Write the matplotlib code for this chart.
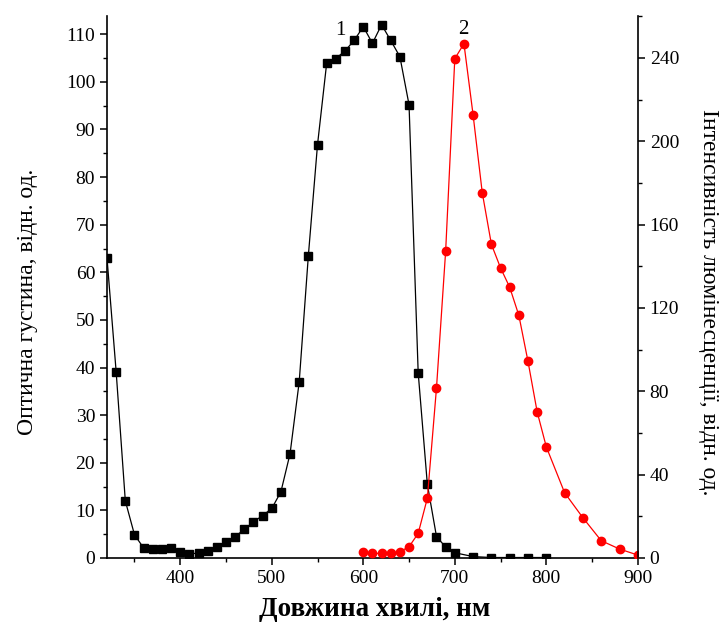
import matplotlib
matplotlib.use('Agg')
import matplotlib.pyplot as plt
from matplotlib.ticker import MultipleLocator

plt.rcParams['font.family'] = ['Liberation Serif', 'DejaVu Serif']

# curve 1: optical density (left axis)
wl_abs = [320, 330, 340, 350, 360, 370, 380, 390, 400, 410, 420, 430, 440, 450,
          460, 470, 480, 490, 500, 510, 520, 530, 540, 550, 560, 570, 580, 590,
          600, 610, 620, 630, 640, 650, 660, 670, 680, 690, 700, 720, 740, 760,
          780, 800]
od = [63.0, 39.1, 12.0, 4.9, 2.1, 1.8, 1.9, 2.1, 1.3, 0.9, 1.0, 1.4, 2.4, 3.4,
      4.5, 6.0, 7.6, 8.9, 10.4, 13.9, 21.9, 37.0, 63.5, 86.8, 103.9, 104.9,
      106.5, 108.7, 111.6, 108.1, 112.0, 108.7, 105.3, 95.2, 38.9, 15.5, 4.5,
      2.3, 1.1, 0.3, 0.1, 0.1, 0.1, 0.1]

# curve 2: luminescence intensity (right axis)
wl_lum = [600, 610, 620, 630, 640, 650, 660, 670, 680, 690, 700, 710, 720, 730,
          740, 750, 760, 770, 780, 790, 800, 820, 840, 860, 880, 900]
lum = [2.7, 2.2, 2.2, 2.3, 3.0, 5.4, 11.8, 28.7, 81.6, 147.2, 239.6, 246.8,
       212.6, 175.3, 150.5, 139.2, 129.9, 116.4, 94.3, 70.1, 53.3, 31.3, 19.3,
       8.3, 4.3, 1.4]

fig = plt.figure(figsize=(7.24, 6.22), dpi=100)
ax1 = fig.add_axes([0.1478, 0.1029, 0.7332, 0.8711])
ax2 = ax1.twinx()

ax1.plot(wl_abs, od, color='black', lw=0.9, marker='s', ms=5.8)
ax2.plot(wl_lum, lum, color='red', lw=0.9, marker='o', ms=6)

ax1.set_xlim(320, 900)
ax1.set_ylim(0, 113.8)
ax2.set_ylim(0, 260)

ax1.xaxis.set_major_locator(MultipleLocator(100))
ax1.xaxis.set_minor_locator(MultipleLocator(50))
ax1.yaxis.set_major_locator(MultipleLocator(10))
ax1.yaxis.set_minor_locator(MultipleLocator(5))
ax2.yaxis.set_major_locator(MultipleLocator(40))
ax2.yaxis.set_minor_locator(MultipleLocator(20))

for ax in (ax1, ax2):
    ax.spines['top'].set_visible(False)
    for s in ax.spines.values():
        s.set_linewidth(1.2)
    ax.tick_params(which='major', direction='out', length=5, width=1.1,
                   labelsize=14)
    ax.tick_params(which='minor', direction='out', length=3, width=1.0)
ax1.spines['right'].set_visible(False)
ax2.spines['left'].set_visible(False)
ax2.spines['bottom'].set_visible(False)

ax1.set_xlabel('Довжина хвилі, нм', fontsize=19.5, fontweight='bold',
               va='baseline')
ax1.xaxis.set_label_coords(0.504, -0.107)
ax1.set_ylabel('Оптична густина, відн. од.', fontsize=17, va='baseline')
ax1.yaxis.set_label_coords(-0.139, 0.472)
ax2.set_ylabel('Інтенсивність люмінесценції, відн. од.', fontsize=17,
               rotation=-90, va='baseline')
ax2.yaxis.set_label_coords(1.123, 0.472)

ax1.text(575, 110.7, '1', fontsize=15, ha='center', va='center')
ax1.text(709, 110.9, '2', fontsize=15, ha='center', va='center')

fig.savefig('out.png', dpi=100)
